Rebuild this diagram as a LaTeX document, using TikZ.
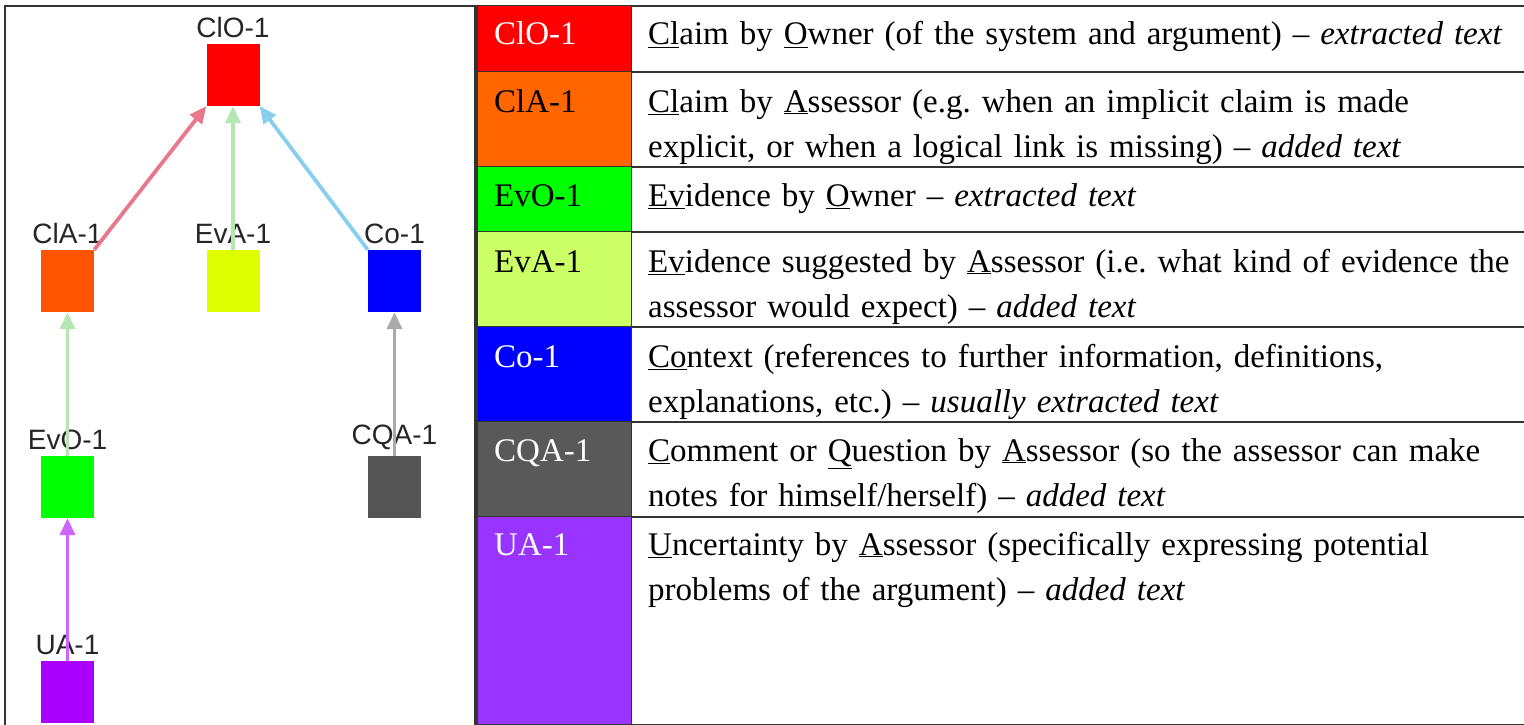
\documentclass[tikz,border=0pt]{standalone}
\usepackage{fontspec}
\setmainfont{Liberation Serif}
\newfontfamily\arialfont{Liberation Sans}
\usetikzlibrary{arrows.meta}
\usetikzlibrary{positioning}

% colours of the argument graph
\definecolor{gclo}{HTML}{FF0000}
\definecolor{gcla}{HTML}{FF5500}
\definecolor{gevo}{HTML}{00FF00}
\definecolor{geva}{HTML}{DDFF00}
\definecolor{gco}{HTML}{0000FF}
\definecolor{gcqa}{HTML}{555555}
\definecolor{gua}{HTML}{AA00FF}
% colours of the table
\definecolor{tclo}{HTML}{FF0000}
\definecolor{tcla}{HTML}{FF6600}
\definecolor{tevo}{HTML}{00FF00}
\definecolor{teva}{HTML}{CCFF66}
\definecolor{tco}{HTML}{0000FF}
\definecolor{tcqa}{HTML}{595959}
\definecolor{tua}{HTML}{9933FF}
% colours of the links
\definecolor{epink}{HTML}{E8788A}
\definecolor{egreen}{HTML}{B6E6B0}
\definecolor{eblue}{HTML}{88CFEF}
\definecolor{egray}{HTML}{AAAAAA}
\definecolor{eviolet}{HTML}{CC66FF}

\tikzstyle{argbox}=[rectangle,minimum width=53pt,minimum height=62pt,inner sep=0pt]
\tikzstyle{argname}=[font=\arialfont\fontsize{28}{28}\selectfont,inner sep=0pt,text=black!85]
\tikzstyle{link}=[draw,line width=3.8pt,-{Triangle[length=17pt,width=15pt]}]
\tikzstyle{rule}=[draw=black!80,line width=1.6pt]
\tikzstyle{tag}=[font=\fontsize{33}{45}\selectfont,inner sep=0pt,anchor=base west]
\tikzstyle{desc}=[font=\fontsize{33}{45}\selectfont\frenchspacing,inner sep=0pt,anchor=base west,text width=880pt,align=left]

\begin{document}
\begin{tikzpicture}[x=1pt,y=-1pt]
  \useasboundingbox (0,0) rectangle (1524,725);

  % frame of the graph panel
  \draw[rule] (5,725) -- (5,6) -- (1524,6);
  \draw[rule] (475,6) -- (475,725);

  % argument graph
  \foreach \x/\y/\name/\label in {233/75/clo/ClO-1, 67.5/281/cla/ClA-1, 233/281/eva/EvA-1,
      394.5/281/co/Co-1, 67.5/487/evo/EvO-1, 394.5/487/cqa/CQA-1, 67.5/692/ua/UA-1}
     \node[argbox, fill=g\name, label={[argname,label distance=6pt]above:\label}] (\name) at (\x,\y) {};

  \foreach \source/\dest/\col in {cla.north east/clo.south west/epink, eva.north/clo.south/egreen,
      co.north west/clo.south east/eblue, evo.north/cla.south/egreen,
      cqa.north/co.south/egray, ua.north/evo.south/eviolet}
     \draw[link, draw=\col] (\source) -- (\dest);

  % legend table
  \foreach \top/\bot/\base/\name/\txt/\label in {6/72/45/clo/white/ClO-1, 72/167/112/cla/black/ClA-1,
      167/232/206/evo/black/EvO-1, 232/327/272/eva/black/EvA-1, 327/422/367/co/white/Co-1,
      422/517/461/cqa/white/CQA-1, 517/725/555/ua/white/UA-1}
  {
     \fill[t\name] (477,\top) rectangle (631,\bot);
     \node[tag, text=\txt] (tag\name) at (494,\base) {\label};
     \draw[rule] (477,\bot) -- (1524,\bot);
  }
  \draw[rule] (477,6) -- (477,725);
  \draw[rule, line width=1pt] (631,6) -- (631,725);

  \node[desc] (dclo) at (648,45) {\underline{Cl}aim by \underline{O}wner (of the system and argument) -- \textit{extracted text}};
  \node[desc] (dcla) at (648,112) {\underline{Cl}aim by \underline{A}ssessor (e.g. when an implicit claim is made\\
      explicit, or when a logical link is missing) -- \textit{added text}};
  \node[desc] (devo) at (648,206) {\underline{Ev}idence by \underline{O}wner -- \textit{extracted text}};
  \node[desc] (deva) at (648,272) {\underline{Ev}idence suggested by \underline{A}ssessor (i.e. what kind of evidence the\\
      assessor would expect) -- \textit{added text}};
  \node[desc] (dco) at (648,367) {\underline{Co}ntext (references to further information, definitions,\\
      explanations, etc.) -- \textit{usually extracted text}};
  \node[desc] (dcqa) at (648,461) {\underline{C}omment or \underline{Q}uestion by \underline{A}ssessor (so the assessor can make\\
      notes for himself/herself) -- \textit{added text}};
  \node[desc] (dua) at (648,555) {\underline{U}ncertainty by \underline{A}ssessor (specifically expressing potential\\
      problems of the argument) -- \textit{added text}};

\end{tikzpicture}
\end{document}
